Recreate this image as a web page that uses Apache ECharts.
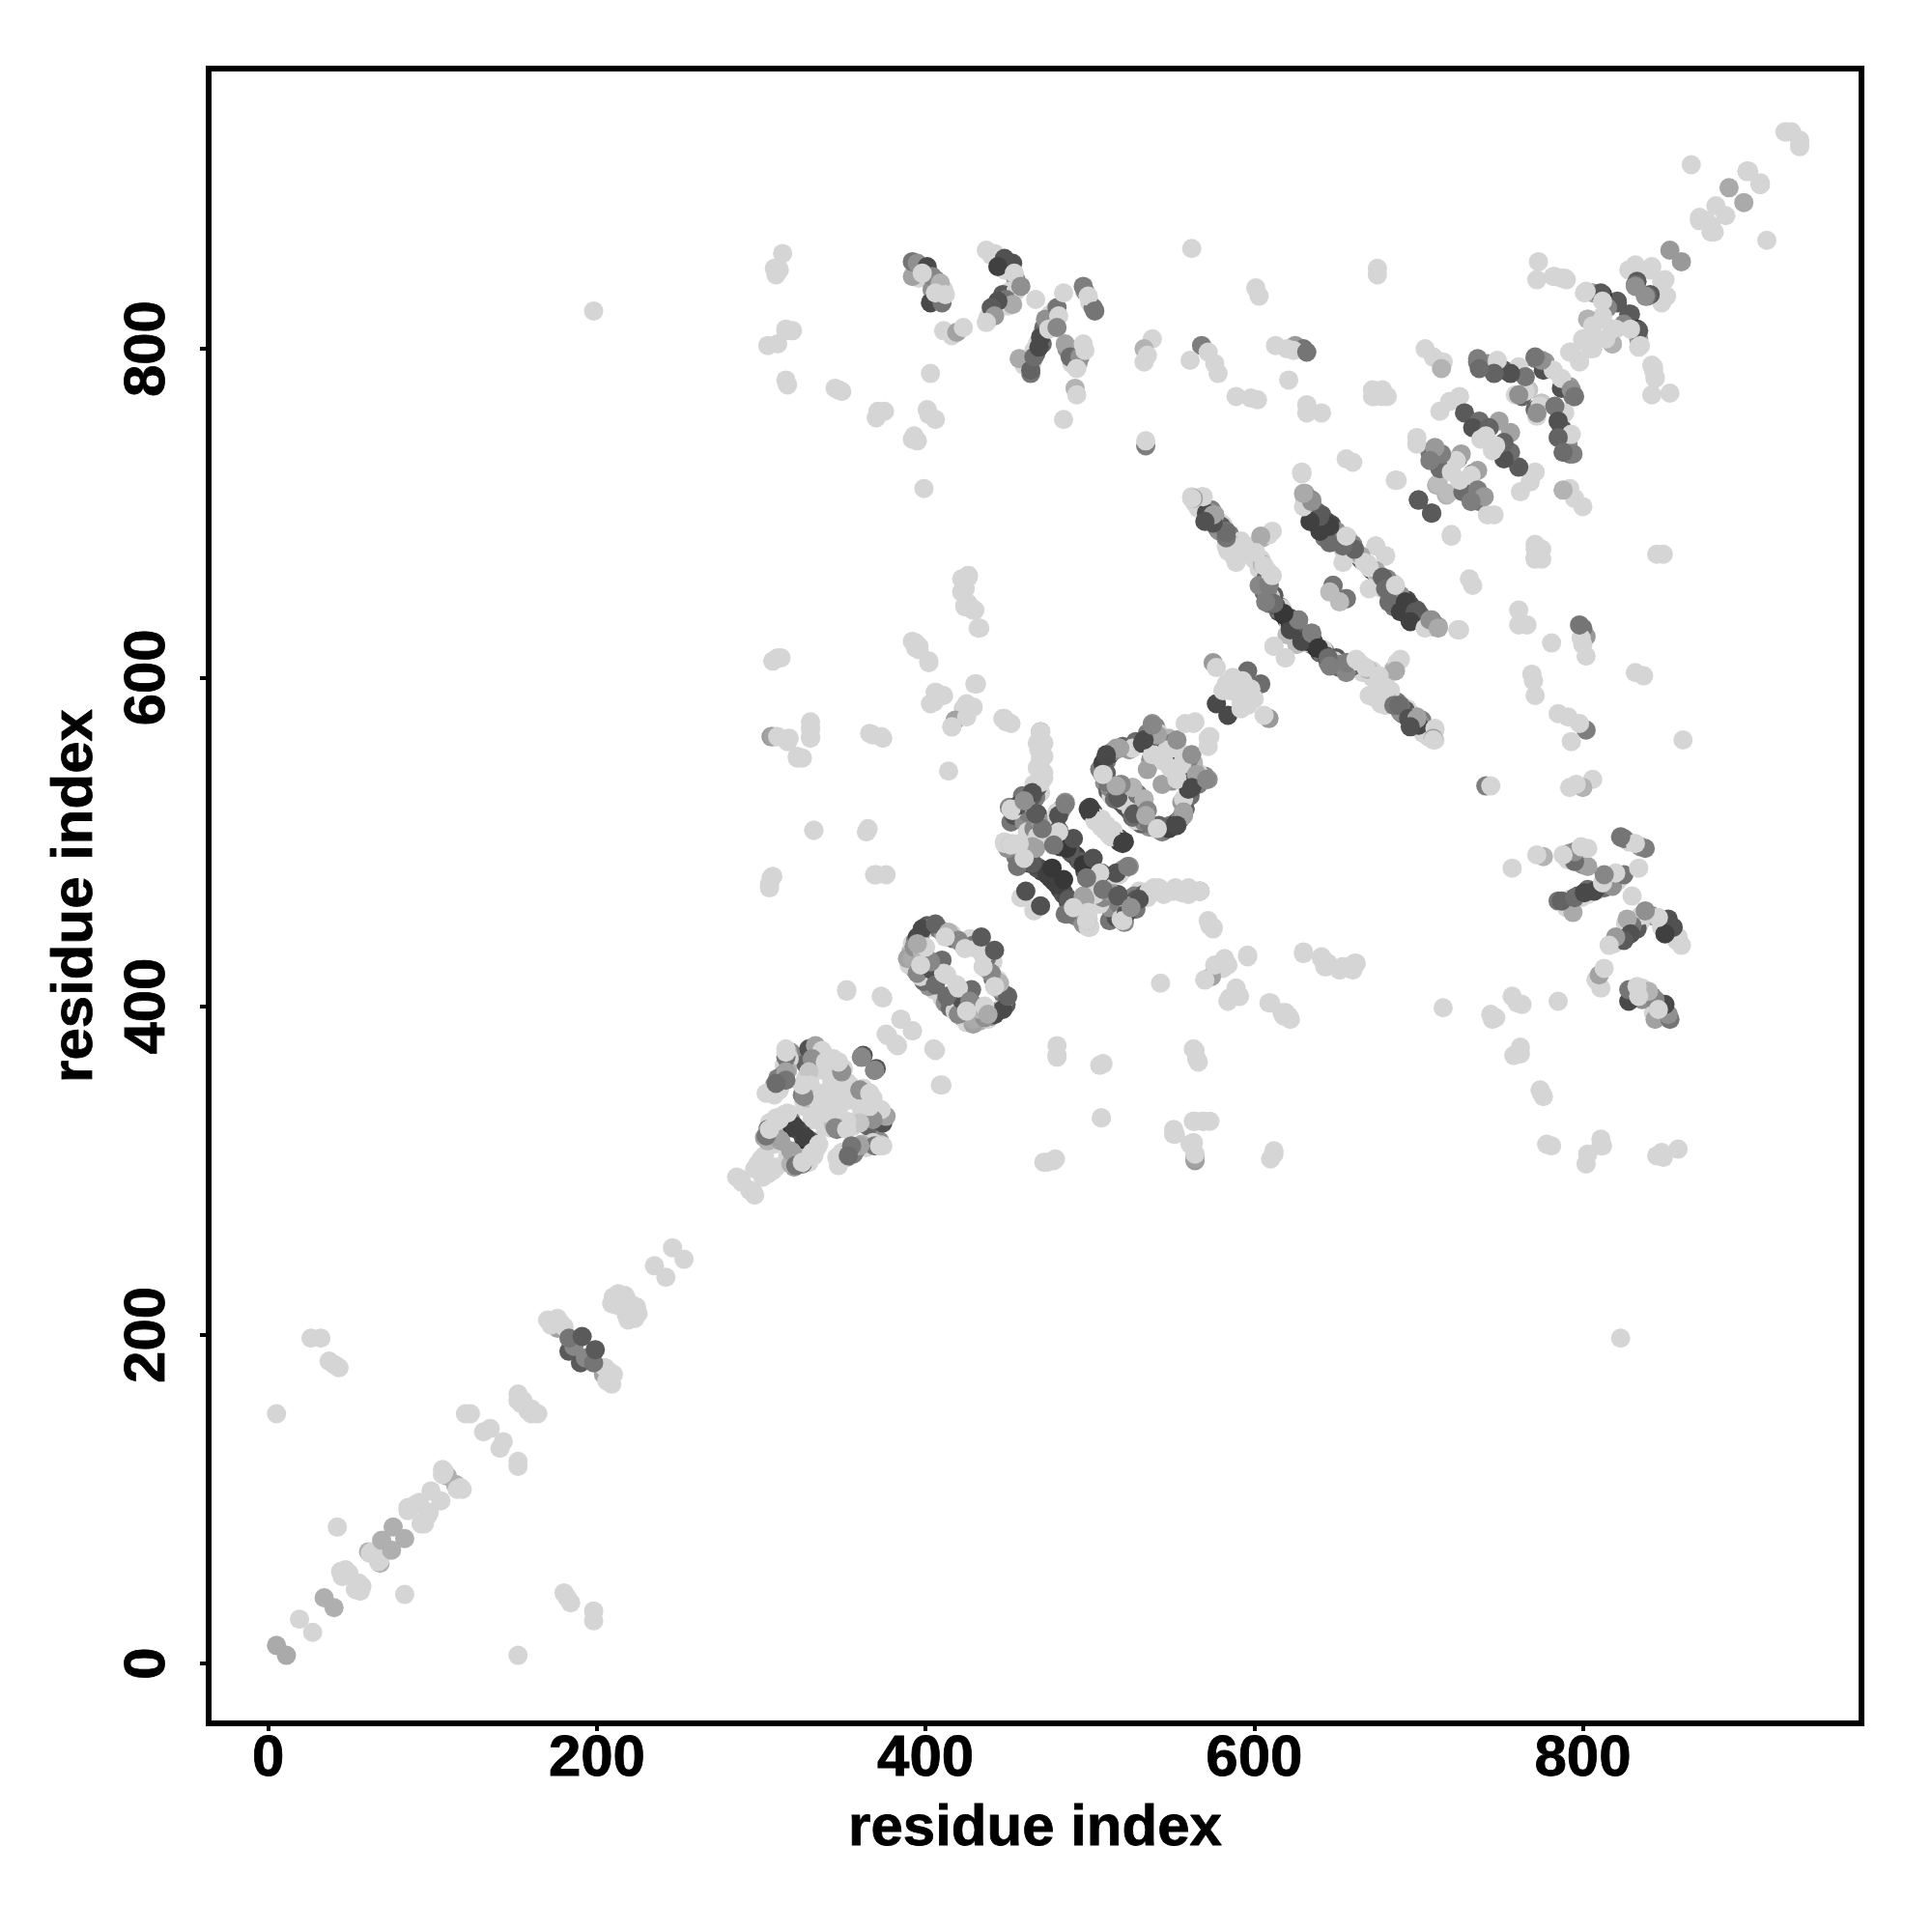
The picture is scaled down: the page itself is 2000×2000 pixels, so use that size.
<!DOCTYPE html>
<html>
<head>
<meta charset="utf-8">
<style>html,body{margin:0;padding:0;background:#fff}#c{width:2000px;height:2000px}</style>
<script src="https://cdn.jsdelivr.net/npm/echarts@6/dist/echarts.min.js"></script>
</head>
<body>
<div id="c"></div>
<script>
// Each contact is [residue i, residue j, grey level]; the map is symmetric, so only i<j is listed.
const L = 208;
const tickValues = [0, 200, 400, 600, 800];
const axisTitle = 'residue index';

const contactsLow = [
[5,11,160],[19,27,L],[34,40,165],[42,83,L],[46,54,120],[44,56,L],[47,57,L],[49,55,L],[45,53,L],
[61,68,165],[63,68,L],[62,67,L],[69,75,165],[76,83,165],[85,95,L],[86,94,L],[85,93,L],[92,98,L],[90,97,L],
[99,105,L],[109,114,165],[106,118,L],[107,117,L],[106,115,L],[120,152,L],[123,152,L],[131,141,L],[135,143,L],
[152,164,L],[152,160,L],[155,160,L],[154,158,L],[26,198,L],[32,198,L],[37,184,L],[40,182,L],[43,180,L],[5,152,L],
[198,823,L]
];
const contacts180 = [
[176,204,150],[170,209,L],[176,210,L],[172,206,L],[178,207,L],[180,205,L],[183,190,70],[186,193,120],[183,198,100],[191,199,70],
[210,223,L],[217,224,L],[212,218,L],[215,222,L],[213,225,L],[218,222,L],[209,219,L],[235,242,L],[246,253,L]
];
const contacts300Extra = [
[318,372,130],[314,364,L],[313,358,130],[308,352,150],[308,346,L],[303,347,L],[326,370,120],[327,365,80],[330,372,90],[334,370,L],
[332,360,L],[327,356,L],[327,350,150],[326,342,L],[330,345,L],[334,347,L],[340,360,L],[344,368,L],[350,362,L],[352,354,L],
[340,348,L],[346,343,L],[341,338,L],[338,335,150],[328,338,L],[332,336,L],
[306,322,160],[308,325,L],[305,329,L],[309,332,L],[312,330,L],[315,330,L],[302,320,150],[305,316,100],[308,316,L],[310,322,170]
];
const contacts300 = [
[287,295,L],[285,296,L],[288,293,L],[298,304,L],[300,307,L],[296,301,L],[302,309,L],
[316,372,170],[317,368,L],[316,361,165],[310,356,110],[312,354,170],[306,348,L],[311,349,L],[329,374,60],[333,376,150],[337,373,L],
[331,368,130],[329,360,190],[330,352,L],[339,366,L],[347,366,L],[343,354,L],[349,357,L],[325,346,110],[328,344,180],[336,344,L],[335,340,L],[331,331,L],
[345,350,L],[344,336,L],[326,345,120],[352,325,L],
[362,370,60],[361,369,130],[369,361,120],[355,349,L],[360,349,130],[366,347,L],
[318,334,L],[314,334,L],[318,330,90],[319,326,20],[322,325,50],[320,327,40],[327,320,40],[312,318,150],[304,325,90],[304,324,160],[308,320,L],[304,318,170],
[319,311,150],[321,303,100],[325,305,L],[331,311,L],[335,316,L]
];
const contacts300b = [
[309,330,L],[315,369,100],[315,360,150],[315,355,100],[315,374,L],[307,349,L],[309,353,90],[315,372,L]
];
const contacts400Extra = [
[405,410,L],[402,412,130],[399,415,90],[397,418,L],[393,423,130],[390,425,L],[391,433,170],[392,438,L],[394,440,110],[397,444,130],
[401,449,70],[404,448,L],[408,447,100],[411,444,150],[416,444,L],[417,441,90],[421,439,L],[423,437,150],[427,441,L],[429,437,100],[431,435,L]
];
const contacts400 = [
[389,429,150],[392,429,160],[393,436,130],[395,420,120],[395,442,50],[398,447,50],[398,433,170],[401,429,160],[404,422,60],[406,413,90],
[406,450,80],[410,428,90],[411,420,L],[413,419,L],[414,445,170],[420,440,120],[424,435,L],[434,442,70],[403,427,120],[397,425,L],[400,436,L],[412,442,L],[395,438,160]
];
const contacts470Extra = [
[450,497,130],[453,494,L],[455,491,90],[458,489,60],[461,488,130],[463,487,40],[469,484,40],[471,482,30],[478,476,40],[483,470,40],[484,468,60],[489,463,100],
[470,508,140],[473,505,100],[475,501,60],[478,501,L],[482,497,40],[484,499,30],[489,493,50],[492,491,40],[494,488,70],[498,483,100],[502,480,L],
[502,518,60],[507,514,L],[510,510,L],[516,502,L],[518,500,40],[483,520,130],[480,518,L],
[468,560,L],[469,556,L],[472,552,L],[468,545,L],[470,530,L],[466,526,100],
[512,452,100],[516,454,60],[512,460,130],[518,462,110],[524,462,L],[527,467,110],[533,468,70],[536,470,L],[541,470,L],[556,470,L],[560,470,L],[506,462,L],[508,466,120],[503,468,L],
[488,460,60],[492,455,110],[496,450,130],[494,458,L],[500,448,L],[499,453,L]
];
const contacts470 = [
[451,521,120],[453,519,L],[459,528,100],[465,528,70],[461,525,140],[469,537,L],[470,550,L],[472,542,L],[468,517,60],[470,512,140],[470,567,130],[470,567,L],[472,560,L],[466,535,L],
[448,499,L],[452,498,160],[458,492,120],[465,497,150],[456,485,100],[459,466,L],[466,458,L],[461,470,60],
[466,486,50],[474,480,40],[477,484,30],[486,496,30],[487,465,70],[486,456,100],[498,452,L],[496,467,150],[490,460,L],[499,457,L],
[485,524,130],[480,515,L],[481,507,60],[490,502,60],[500,521,40],[504,512,L],[507,509,L],[513,503,L],[520,499,40],
[516,481,60],[506,481,L],[523,485,110],[498,478,100],
[508,471,100],[517,467,70],[522,456,60],[520,452,L],[530,465,60],[525,460,130],[539,472,L],[545,470,L],[551,470,L],[566,470,L],[573,449,L],[575,447,L]
];
const contacts540Extra = [
[506,544,110],[510,549,100],[512,553,50],[514,555,120],[520,558,80],[524,556,140],[528,561,90],[535,566,110],[540,570,120],[536,563,70],[542,566,L],[544,563,90],[548,563,170],[550,560,110],[551,556,50],[547,556,L],[553,557,L],
[509,536,130],[511,531,80],[513,528,L],[512,533,120],[519,524,100],[522,521,60],[525,520,L],[530,518,130],[533,515,170],[536,511,100],[521,530,140],[524,529,L],[529,529,100]
];
const contacts540 = [
[538,572,130],[541,565,150],[553,562,130],[508,548,40],[510,542,80],[516,557,150],[526,557,L],[532,560,50],[537,550,130],[535,544,150],[544,550,L],[549,545,L],[553,538,L],
[508,541,90],[515,526,90],[527,517,70],[533,526,160],[526,533,170],[519,535,120],[516,534,160],[508,541,100],[510,552,50],[518,557,120],
[533,562,50],[518,557,150],[510,553,50],[508,541,L],[538,571,120],[563,572,L],[573,564,L],[558,572,L]
];
const contactsUpperExtra = [
[396,848,80],[398,850,L],[403,845,150],[406,842,100],[405,832,90],[411,836,L],[407,830,120],[394,846,160],[396,843,L],[404,836,130],
[440,857,L],[445,852,60],[450,851,40],[448,848,L],[455,842,130],[451,835,L],[447,833,70],[445,826,L],[441,822,120],[438,819,L],[455,835,L],[450,826,L],
[464,790,70],[465,792,L],[467,797,70],[466,799,L],[468,803,L],[471,803,90],[471,810,L],[472,813,90],[475,816,140],[464,785,100],[460,790,L],[476,821,L],[478,818,110],[479,824,L],
[497,835,130],[500,828,L],[502,825,100],[486,800,130],[490,797,L],[489,791,L],[493,792,150],[625,802,140],[630,800,100]
];
const contactsOffUpper = [
[304,802,L],[308,849,L],[309,845,L],[313,858,L],[315,811,L],[319,811,L],[315,781,L],[316,778,L],[345,776,L],[349,774,L],[371,762,L],[370,758,L],[375,762,L],
[393,747,L],[395,744,L],[392,745,L],[399,715,L],[401,763,L],[402,760,L],[406,757,L],[403,785,L],
[392,844,150],[392,853,100],[395,852,130],[401,850,50],[404,844,120],[398,846,L],[409,840,170],[403,828,50],[410,828,100],[406,834,L],[412,833,L],
[437,860,L],[442,858,L],[448,855,60],[453,852,60],[444,850,40],[454,846,L],[458,838,130],[467,830,L],[449,830,100],[453,827,160],[444,829,60],[440,825,70],[442,820,140],[437,816,L],
[457,794,160],[464,787,80],[466,795,90],[469,801,50],[470,807,50],[473,818,130],[475,812,L],[480,825,100],[481,820,L],[480,813,120],[484,834,L],
[496,838,110],[499,832,L],[503,823,100],[485,803,150],[488,795,90],[494,795,130],[492,788,L],[496,803,L],[497,799,L],[491,776,170],[492,772,L],[484,757,L],
[411,811,L],[416,808,L],[419,810,150],[423,813,L],
[538,806,L],[533,800,170],[533,792,L],[535,796,L],[534,741,110],[534,744,L],[562,861,L],
[568,802,110],[572,798,L],[576,791,L],[578,785,L],[561,793,L],[601,837,L],[603,832,L],[589,771,L],[598,770,L],[602,769,L],
[613,802,L],[620,800,L],[624,799,L],[632,798,100],[621,781,L],[632,766,L],[632,761,L],[641,761,L],[675,849,L],[675,845,L],[673,771,L],[681,771,L],[678,772,L],
[656,733,L],[660,731,L],[687,720,L],[629,724,L],[720,686,L],[771,678,L],[771,672,L],[775,678,L],[775,672,L]
];
const contactsOffMid = [
[306,564,140],[309,564,L],[316,561,L],[330,569,L],[330,563,L],[322,552,L],[325,551,L],[368,565,L],[374,563,L],[414,543,L],[332,507,L],[365,508,L],[364,506,L],[306,478,L],[305,472,L],[370,480,L],[376,480,L],
[352,409,L],[374,405,L],[385,392,L],[392,385,L],[377,382,L],[383,376,L],[406,373,L],[410,352,L],[369,480,L],
[307,610,L],[310,612,L],[312,612,L],[392,622,L],[394,618,L],[402,610,L],[396,619,L],[433,630,L],[431,596,L],[406,591,L],[411,589,L],[403,584,L],[423,581,L],[429,582,L],[424,577,L],[416,570,L],[418,574,150],
[448,575,L],[452,572,L],[422,660,L],[426,661,L],[422,652,L],[426,645,L],[430,641,L],[424,644,L],[424,654,L],[426,662,L],
[507,332,L],[474,305,L],[479,307,L],[564,373,L],[566,366,L],[569,330,L],[573,330,L],[564,330,L],[551,322,L],[563,317,L],[564,307,150],[564,310,L],
[576,425,L],[584,425,L],[585,405,L],[591,406,L],[570,416,L],[596,430,L],[609,402,L],[617,396,L],[621,394,L],[630,432,L],[641,429,L],[643,424,L],[654,424,L],[662,426,L],
[310,803,L],[311,848,L],[315,812,L],[347,775,L]
];
const contactsStrandAExtra = [
[564,708,170],[570,703,L],[574,702,110],[578,695,150],[581,693,L],[585,687,100],[577,692,70],[586,684,130],[590,682,L],[592,675,L],[603,666,L],[606,652,90],[611,650,60],[615,640,50],[616,643,120],[620,635,40],[623,630,100],[625,630,170],[631,626,70],[633,621,L],[636,622,50],[641,615,100],[642,617,L],[650,612,70],[649,610,L],[652,608,120],[659,607,130],[665,608,L],[672,604,L],[680,600,L],[683,592,L],[682,585,150],[690,578,110],[692,580,70],[697,572,L],[701,572,130],[703,566,L],[706,564,L]
];
const contactsStrandA = [
[562,710,L],[568,710,L],[571,700,50],[576,699,150],[573,696,60],[579,689,130],[583,689,100],[587,680,L],[584,677,L],[588,673,L],[598,677,L],[600,672,L],[605,669,170],[605,685,170],[609,687,L],
[607,660,80],[603,656,120],[609,657,110],[610,663,L],[609,645,100],[613,644,60],[618,638,20],[620,626,180],[622,632,30],[627,635,110],[629,622,50],[635,627,110],[639,618,30],[645,612,90],[646,607,110],
[612,619,L],[619,612,L],[656,609,110],[662,611,L],[668,606,L],[689,611,L],[686,604,160],[676,601,L],[670,589,L],[680,583,L],[685,583,100],[688,583,90],[694,575,60],[699,575,150],[695,570,60],[710,569,L],[709,563,150],[709,562,L]
];
const contactsStrandBExtra = [
[632,709,110],[636,703,L],[638,701,90],[639,697,50],[644,695,40],[648,689,90],[645,687,L],[651,683,L],[653,685,110],[656,680,130],[654,678,L],[662,676,150],[666,671,130],[669,669,L],[672,665,50],[676,660,L],[681,659,120],[683,651,L],[685,649,110],[688,648,40],[691,642,30],[694,640,50],[699,637,100],[701,634,L],[704,634,110],[709,631,120]
];
const contactsStrandB = [
[631,712,150],[635,708,120],[629,724,L],[641,699,70],[635,695,50],[647,693,50],[643,685,100],[650,689,130],[646,682,90],[657,685,L],[660,681,120],[664,674,L],[654,670,L],[674,680,L],[680,674,L],
[674,665,160],[670,667,L],[678,661,80],[680,654,90],[686,656,L],[692,646,40],[689,640,40],[698,640,70],[695,634,40],[704,630,L],[707,635,130],[712,630,160],[725,629,L],
[648,656,100],[656,648,100],[652,646,180]
];
const contactsDiag580 = [
[575,609,140],[577,606,L],[577,584,50],[583,596,L],[588,592,L],[596,604,90],[592,585,L],[587,600,L],[598,593,L],[581,592,L]
];
const contacts720 = [
[736,792,100],[742,791,130],[748,790,L],[752,787,70],[761,788,L],[771,794,110],[777,792,140],[776,787,60],[782,787,L],[775,793,130],[771,795,100],[767,775,190],[763,771,80],[759,772,L],[765,774,L],[761,772,130],[761,789,L],[765,783,100],[756,785,60],[748,793,L],[746,785,80],[736,794,110],[737,788,90],
[704,800,L],[709,795,L],[715,792,L],[714,788,170],[725,771,L],[719,768,L],[713,762,L],[728,761,70],[737,756,90],[733,752,60],[749,756,150],[743,752,80],[741,747,L],[738,745,L],
[707,737,100],[712,736,100],[699,742,L],[699,746,L],[724,733,100],[714,726,190],[711,717,170],[712,718,180],[713,727,90],[720,725,L],[726,736,150],[723,732,L],[714,736,110],[710,740,140],[707,732,110],[686,720,L],[700,708,70],[708,700,70]
];
const contactsTop = [
[923,932,L],[927,932,L],[924,932,L],[866,912,L],[900,908,180],[900,908,L],[901,908,L],[889,898,160],[881,887,L],[871,878,L],[871,880,L],[875,878,L],[853,860,140],
[828,848,L],[832,851,L],[841,848,L],[849,841,L],[849,831,L],[833,841,70],[832,839,90],[838,832,130],[842,850,L],
[806,834,140],[801,834,L],[811,833,70],[821,828,70],[829,821,70],[833,812,30],[834,811,70],[825,815,120],[835,802,L],[818,803,170],[812,820,L],[803,818,170],[806,814,L],[818,812,L],[812,829,L],
[800,805,L],[793,798,L],[798,792,L],[800,806,L],[806,807,L],[787,843,L],[790,842,L],[782,844,L],[789,843,L],[783,844,L],[772,842,L],[773,853,L]
];

const upper = [].concat(contactsLow, contacts180, contacts300Extra, contacts300, contacts300b, contactsUpperExtra, contactsOffUpper, contactsOffMid,
  contacts400Extra, contacts400, contacts470Extra, contacts470, contacts540Extra, contacts540, contactsStrandAExtra, contactsStrandA, contactsStrandBExtra, contactsStrandB, contactsDiag580, contacts720, contactsTop);
const points = [];
upper.forEach(c => points.push([c[0], c[1], c[2]], [c[1], c[0], c[2]]));

const labelFont = {fontFamily: '"Liberation Sans"', fontWeight: 'bold', fontSize: 60, color: '#000', textBorderColor: '#000', textBorderWidth: 0.8};

const chart = echarts.init(document.getElementById('c'), null, {renderer: 'canvas'});
chart.setOption({
  animation: false,
  backgroundColor: '#fff',
  grid: {left: 216, top: 71, width: 1711, height: 1713, show: true, borderColor: '#000', borderWidth: 6, backgroundColor: 'transparent'},
  visualMap: {show: false, type: 'continuous', dimension: 2, min: 0, max: 255, inRange: {color: ['#1c1c1c', '#ffffff']}},
  xAxis: {
    type: 'value', min: -36.3, max: 969.6, splitLine: {show: false},
    axisLine: {show: false, onZero: false},
    axisTick: {show: true, length: 8, lineStyle: {width: 4, color: '#000'}, customValues: tickValues},
    axisLabel: Object.assign({margin: 7, customValues: tickValues, showMinLabel: true, showMaxLabel: true}, labelFont),
    name: axisTitle, nameLocation: 'middle', nameGap: 79, nameTextStyle: labelFont
  },
  yAxis: {
    type: 'value', min: -36.4, max: 970.5, splitLine: {show: false},
    axisLine: {show: false, onZero: false},
    axisTick: {show: true, length: 9, lineStyle: {width: 4, color: '#000'}, customValues: tickValues},
    axisLabel: Object.assign({margin: 33, rotate: 90, customValues: tickValues, showMinLabel: true, showMaxLabel: true}, labelFont),
    name: axisTitle, nameLocation: 'middle', nameGap: 108, nameTextStyle: labelFont
  },
  series: [{type: 'scatter', symbol: 'circle', symbolSize: 20, data: points, encode: {x: 0, y: 1}, large: false, itemStyle: {opacity: 1}}]
});
</script>
</body>
</html>
